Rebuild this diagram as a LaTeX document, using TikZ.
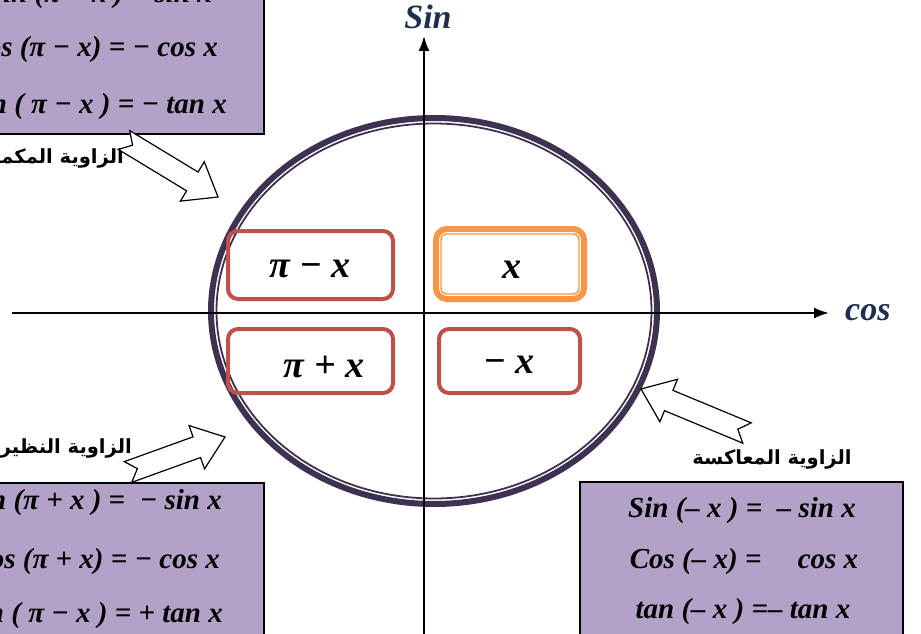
\documentclass[tikz,border=0pt]{standalone}
\usepackage{fontspec}
\setmainfont{Liberation Serif}
\newfontfamily\arabicfont[Script=Arabic]{DejaVu Sans}
\TeXXeTstate=1
\usepackage{xcolor}
\usetikzlibrary{calc,arrows.meta}

\definecolor{boxpurple}{HTML}{B3A2C7}
\definecolor{ringpurple}{HTML}{3F3151}
\definecolor{boxred}{HTML}{C0504D}
\definecolor{boxorange}{HTML}{F79646}
\definecolor{axisnavy}{HTML}{1F2F4F}

\newcommand{\eqfont}{\fontsize{29}{31}\selectfont\bfseries\itshape}
\newcommand{\angfont}{\fontsize{38}{40}\selectfont\bfseries\itshape}
\newcommand{\axfont}{\fontsize{34}{36}\selectfont\bfseries\itshape}
\newcommand{\arfont}{\arabicfont\fontsize{19.5}{21}\selectfont\bfseries}

% hollow arrow with a notched tail, from #1 (tail) to #2 (tip)
\newcommand{\fatarrow}[2]{%
  \draw[fatline] ($(#1)!11pt!90:(#2)$) -- ($(#2)!30pt!(#1)!11pt!-90:(#1)$)
    -- ($(#2)!30pt!(#1)!23pt!-90:(#1)$) -- (#2)
    -- ($(#2)!30pt!(#1)!23pt!90:(#1)$) -- ($(#2)!30pt!(#1)!11pt!90:(#1)$)
    -- ($(#1)!11pt!-90:(#2)$) -- ($(#1)!10pt!(#2)$) -- cycle;}

\begin{document}
\begin{tikzpicture}[x=1pt,y=-1pt]
    % Styles for boxes and lines
    \tikzset{
      anglebox/.style={rectangle, rounded corners=10pt, draw=boxred, line width=4pt, minimum width=165pt, minimum height=66pt},
      rulebox/.style={rectangle, draw=black, line width=2pt, fill=boxpurple},
      axis/.style={line width=2pt, -{Latex[length=15pt,width=11pt]}},
      fatline/.style={draw=black, line width=1.2pt, fill=white, line join=miter},
      eqtext/.style={font=\eqfont, inner sep=0pt},
      angtext/.style={font=\angfont, inner sep=0pt, anchor=base},
      axtext/.style={font=\axfont, text=axisnavy, inner sep=0pt},
      arlabel/.style={font=\arfont, inner sep=0pt}
    }
    \useasboundingbox (0,0) rectangle (921,634);
    \clip (0,0) rectangle (921,634);

    % Circle (double ring)
    \draw[ringpurple, line width=6pt] (434,311) ellipse [x radius=223pt, y radius=193pt];
    \draw[ringpurple, line width=1.8pt] (434,311) ellipse [x radius=217.5pt, y radius=187.5pt];

    % Axes
    \coordinate (xstart) at (12,313);
    \coordinate (xend) at (829,313);
    \coordinate (ystart) at (424,640);
    \coordinate (yend) at (424,36);
    \draw[axis] (xstart) -- (xend);
    \draw[axis] (ystart) -- (yend);
    \node[axtext, anchor=base] (sinlbl) at (428,29) {Sin};
    \node[axtext, anchor=base west] (coslbl) at (845,320) {cos};

    % Quadrant boxes
    \node[anglebox, minimum width=165pt, minimum height=68pt] (pimx) at (310.5,265) {};
    \node[anglebox, minimum width=165pt, minimum height=64pt] (pipx) at (310.5,361) {};
    \node[anglebox, minimum width=141pt, minimum height=64pt] (mx) at (509.5,361) {};
    \node[rectangle, rounded corners=11pt, draw=boxorange, line width=6pt, minimum width=148pt, minimum height=70pt] (xbox) at (510,264) {};
    \draw[boxorange, line width=1.4pt, rounded corners=6pt] ([shift={(8,8)}]xbox.north west) rectangle ([shift={(-8,-8)}]xbox.south east);

    \node[angtext] (pimxtxt) at (310,277) {π − x};
    \node[angtext] (xtxt) at (512,278) {x};
    \node[angtext] (pipxtxt) at (324,377) {π + x};
    \node[angtext] (mxtxt) at (509,373) {− x};

    % Rule boxes
    \node[rulebox, minimum width=323pt, minimum height=150pt] (supbox) at (102.5,59) {};
    \node[rulebox, minimum width=323pt, minimum height=170pt] (oppbox) at (102.5,568) {};
    \node[rulebox, minimum width=323pt, minimum height=170pt] (negbox) at (741.5,567) {};

    \node[eqtext, anchor=base east] (sup1) at (212,3) {Sin (π − x ) = sin x};
    \node[eqtext, anchor=base east] (sup2) at (218,57) {Cos (π − x) = − cos x};
    \node[eqtext, anchor=base east] (sup3) at (227,113) {tan ( π − x ) = − tan x};

    \node[eqtext, anchor=base east] (opp1) at (222,509) {Sin (π + x ) = \ − sin x};
    \node[eqtext, anchor=base east] (opp2) at (220,568) {Cos (π + x) = − cos x};
    \node[eqtext, anchor=base east] (opp3) at (223,622) {tan ( π − x ) = + tan x};

    \node[eqtext, anchor=base] (neg1) at (742,517) {Sin (– x ) = \ – sin x};
    \node[eqtext, anchor=base] (neg2) at (744,568) {Cos (– x) = \quad cos x};
    \node[eqtext, anchor=base] (neg3) at (743,618) {tan (– x ) =– tan x};

    % Labels
    \node[arlabel, anchor=base east] (suplbl) at (124,163) {\beginR الزاوية المكملة\endR};
    \node[arlabel, anchor=base east] (opplbl) at (132,453) {\beginR الزاوية النظيرة\endR};
    \node[arlabel, anchor=base] (neglbl) at (772,464) {\beginR الزاوية المعاكسة\endR};

    % Arrows with labels
    \coordinate (suptail) at (124,140);
    \coordinate (suptip) at (218,197);
    \coordinate (opptail) at (128,472);
    \coordinate (opptip) at (225,437);
    \coordinate (negtail) at (747,433);
    \coordinate (negtip) at (641,389);
    \fatarrow{suptail}{suptip}
    \fatarrow{opptail}{opptip}
    \fatarrow{negtail}{negtip}

\end{tikzpicture}
\end{document}
